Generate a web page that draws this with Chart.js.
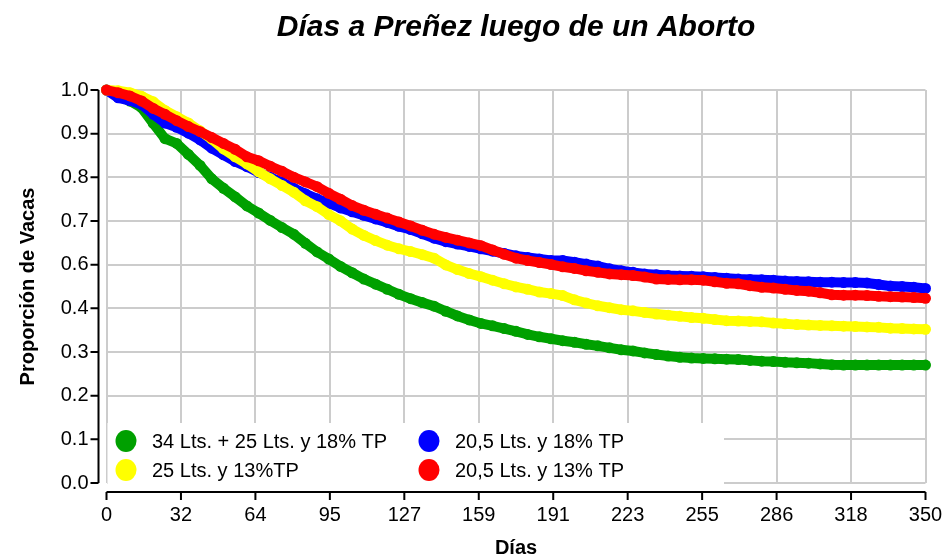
<!DOCTYPE html>
<html>
<head>
<meta charset="utf-8">
<script src="https://cdn.jsdelivr.net/npm/chart.js@4"></script>
<style>
  body { margin: 0; background: #fff; }
</style>
</head>
<body>
<canvas id="curvas" width="943" height="558"></canvas>
<script>
// titles
const chartTitle = 'Días a Preñez luego de un Aborto'
const xTitle = 'Días'
const yTitle = 'Proporción de Vacas'

// tick labels (evenly spaced over the axis range)
const xTickLabels = ['0', '32', '64', '95', '127', '159', '191', '223', '255', '286', '318', '350']
const yTickLabels = ['0.0', '0.1', '0.2', '0.3', '0.4', '0.6', '0.7', '0.8', '0.9', '1.0']

const seriesNames = ['34 Lts. + 25 Lts. y 18% TP', '25 Lts. y 13%TP', '20,5 Lts. y 18% TP', '20,5 Lts. y 13% TP']
const seriesColors = ['#00a000', '#ffff00', '#0000ff', '#ff0000']

// days since abortion
const days = [0, 5, 10, 15, 20, 25, 30, 35, 40, 45,
  50, 55, 60, 65, 70, 75, 80, 85, 90, 95,
  100, 105, 110, 115, 120, 125, 130, 135, 140, 145,
  150, 155, 160, 165, 170, 175, 180, 185, 190, 195,
  200, 205, 210, 215, 220, 225, 230, 235, 240, 245,
  250, 255, 260, 265, 270, 275, 280, 285, 290, 295,
  300, 305, 310, 315, 320, 325, 330, 335, 340, 345, 350]

// proportion of cows still open
const green = [1.000, 0.985, 0.972, 0.955, 0.915, 0.876, 0.864, 0.836, 0.808, 0.774,
  0.750, 0.728, 0.705, 0.687, 0.668, 0.650, 0.633, 0.610, 0.588, 0.570,
  0.551, 0.535, 0.519, 0.506, 0.493, 0.480, 0.469, 0.459, 0.450, 0.437,
  0.425, 0.415, 0.406, 0.400, 0.393, 0.386, 0.378, 0.372, 0.367, 0.362,
  0.358, 0.353, 0.349, 0.344, 0.339, 0.336, 0.331, 0.327, 0.323, 0.320,
  0.318, 0.317, 0.316, 0.315, 0.314, 0.312, 0.310, 0.309, 0.307, 0.306,
  0.305, 0.303, 0.301, 0.300, 0.300, 0.300, 0.300, 0.300, 0.300, 0.300, 0.300]
const yellow = [1.000, 0.998, 0.993, 0.984, 0.970, 0.948, 0.932, 0.916, 0.896, 0.875,
  0.850, 0.830, 0.812, 0.792, 0.774, 0.757, 0.740, 0.718, 0.703, 0.683,
  0.667, 0.646, 0.630, 0.617, 0.605, 0.596, 0.589, 0.581, 0.572, 0.555,
  0.543, 0.533, 0.525, 0.516, 0.507, 0.499, 0.493, 0.486, 0.482, 0.477,
  0.466, 0.458, 0.451, 0.446, 0.441, 0.438, 0.434, 0.430, 0.427, 0.424,
  0.421, 0.419, 0.416, 0.413, 0.412, 0.411, 0.410, 0.407, 0.405, 0.403,
  0.402, 0.401, 0.400, 0.399, 0.398, 0.397, 0.396, 0.394, 0.393, 0.392, 0.391]
const blue = [1.000, 0.980, 0.973, 0.963, 0.938, 0.916, 0.905, 0.890, 0.873, 0.852,
  0.835, 0.818, 0.805, 0.790, 0.778, 0.765, 0.750, 0.736, 0.723, 0.712,
  0.700, 0.690, 0.681, 0.672, 0.663, 0.653, 0.645, 0.634, 0.623, 0.614,
  0.608, 0.602, 0.596, 0.590, 0.584, 0.578, 0.574, 0.570, 0.566, 0.566,
  0.562, 0.557, 0.552, 0.545, 0.540, 0.536, 0.532, 0.530, 0.528, 0.527,
  0.526, 0.525, 0.523, 0.521, 0.519, 0.518, 0.517, 0.516, 0.514, 0.513,
  0.512, 0.511, 0.511, 0.510, 0.510, 0.509, 0.505, 0.501, 0.500, 0.498, 0.495]
const red = [1.000, 0.993, 0.985, 0.972, 0.953, 0.938, 0.922, 0.907, 0.894, 0.879,
  0.864, 0.849, 0.830, 0.820, 0.806, 0.793, 0.778, 0.766, 0.754, 0.737,
  0.722, 0.706, 0.694, 0.684, 0.674, 0.664, 0.654, 0.643, 0.633, 0.625,
  0.618, 0.611, 0.604, 0.593, 0.582, 0.572, 0.566, 0.561, 0.556, 0.550,
  0.546, 0.540, 0.536, 0.532, 0.530, 0.528, 0.524, 0.519, 0.518, 0.517,
  0.517, 0.516, 0.512, 0.508, 0.507, 0.502, 0.498, 0.496, 0.493, 0.490,
  0.488, 0.484, 0.479, 0.478, 0.478, 0.477, 0.475, 0.474, 0.473, 0.472, 0.470]

const FONT = '"Liberation Sans", Arial, sans-serif'
const X_MAX = 350

// red on top, green at the bottom
const drawOrder = [3, 1, 2, 0]
const datasets = [green, yellow, blue, red].map((vals, i) => ({
  label: seriesNames[i],
  data: days.map((d, j) => ({ x: d, y: vals[j] })),
  showLine: true,
  borderColor: seriesColors[i],
  backgroundColor: seriesColors[i],
  borderWidth: 10,
  pointRadius: 5.5,
  pointBorderWidth: 0,
  tension: 0,
  clip: false,
  order: drawOrder[i],
}))

// offset black axes, title and the boxed legend
const decor = {
  id: 'decor',
  beforeDatasetsDraw(chart) {
    const { ctx, chartArea: a, scales: { x, y } } = chart
    ctx.save()
    ctx.strokeStyle = '#000'
    ctx.lineWidth = 2
    const ax = a.left - 8
    const ay = a.bottom + 9
    ctx.beginPath()
    ctx.moveTo(ax, y.getPixelForValue(1))
    ctx.lineTo(ax, y.getPixelForValue(0))
    y.ticks.forEach(t => {
      const p = y.getPixelForValue(t.value)
      ctx.moveTo(ax - 8, p)
      ctx.lineTo(ax, p)
    })
    ctx.moveTo(x.getPixelForValue(0), ay)
    ctx.lineTo(x.getPixelForValue(X_MAX), ay)
    x.ticks.forEach(t => {
      const p = x.getPixelForValue(t.value)
      ctx.moveTo(p, ay)
      ctx.lineTo(p, ay + 8)
    })
    ctx.stroke()

    ctx.fillStyle = '#000'
    ctx.font = 'italic bold 30px ' + FONT
    ctx.textAlign = 'center'
    ctx.textBaseline = 'alphabetic'
    ctx.fillText(chartTitle, (a.left + a.right) / 2, 36)
    ctx.restore()
  },
  afterDatasetsDraw(chart) {
    const { ctx, chartArea: a } = chart
    ctx.save()
    ctx.fillStyle = '#fff'
    ctx.fillRect(a.left + 1, 423, 723 - a.left, a.bottom + 2 - 423)
    // two columns: green/yellow, blue/red
    const slots = [[126, 441], [126, 470], [429, 441], [429, 470]]
    ctx.font = '20px ' + FONT
    ctx.textAlign = 'left'
    ctx.textBaseline = 'middle'
    chart.data.datasets.forEach((ds, i) => {
      const [cx, cy] = slots[i]
      ctx.fillStyle = ds.backgroundColor
      ctx.beginPath()
      ctx.ellipse(cx, cy, 10.5, 11, 0, 0, Math.PI * 2)
      ctx.fill()
      ctx.fillStyle = '#000'
      ctx.fillText(ds.label, cx + 26, cy + 1)
    })
    ctx.restore()
  }
}

const gridStyle = { color: '#cccccc', lineWidth: 2, drawTicks: false }

const ctx = document.getElementById('curvas')
window.myChart = new Chart(ctx, {
  type: 'scatter',
  data: { datasets },
  options: {
    responsive: false,
    animation: false,
    devicePixelRatio: 1,
    layout: { padding: { top: 90, right: 0, left: 0, bottom: 0 } },
    plugins: {
      legend: { display: false },
      title: { display: false },
      tooltip: { enabled: false },
    },
    scales: {
      x: {
        type: 'linear',
        min: 0,
        max: X_MAX,
        grid: gridStyle,
        border: { display: false },
        afterBuildTicks: axis => {
          axis.ticks = xTickLabels.map((l, i) => ({ value: i * X_MAX / (xTickLabels.length - 1) }))
        },
        afterFit: axis => { axis.height = 75; axis.paddingRight = 17.5 },
        ticks: {
          autoSkip: false,
          maxRotation: 0,
          padding: 20,
          color: '#000',
          font: { family: FONT, size: 20 },
          callback: (v, i) => xTickLabels[i],
        },
        title: {
          display: true,
          text: xTitle,
          color: '#000',
          font: { family: FONT, size: 20, weight: 'bold', lineHeight: 1 },
          padding: { top: 0, bottom: 0 },
        },
      },
      y: {
        type: 'linear',
        min: 0,
        max: 1,
        grid: gridStyle,
        border: { display: false },
        afterBuildTicks: axis => {
          axis.ticks = yTickLabels.map((l, i) => ({ value: i / (yTickLabels.length - 1) }))
        },
        afterFit: axis => { axis.width = 106.5 },
        ticks: {
          autoSkip: false,
          padding: 18,
          color: '#000',
          font: { family: FONT, size: 20 },
          callback: (v, i) => yTickLabels[i],
        },
        title: {
          display: true,
          text: yTitle,
          color: '#000',
          font: { family: FONT, size: 20, weight: 'bold', lineHeight: 1 },
          padding: { top: 18, bottom: 0 },
        },
      },
    },
  },
  plugins: [decor],
})
</script>
</body>
</html>
